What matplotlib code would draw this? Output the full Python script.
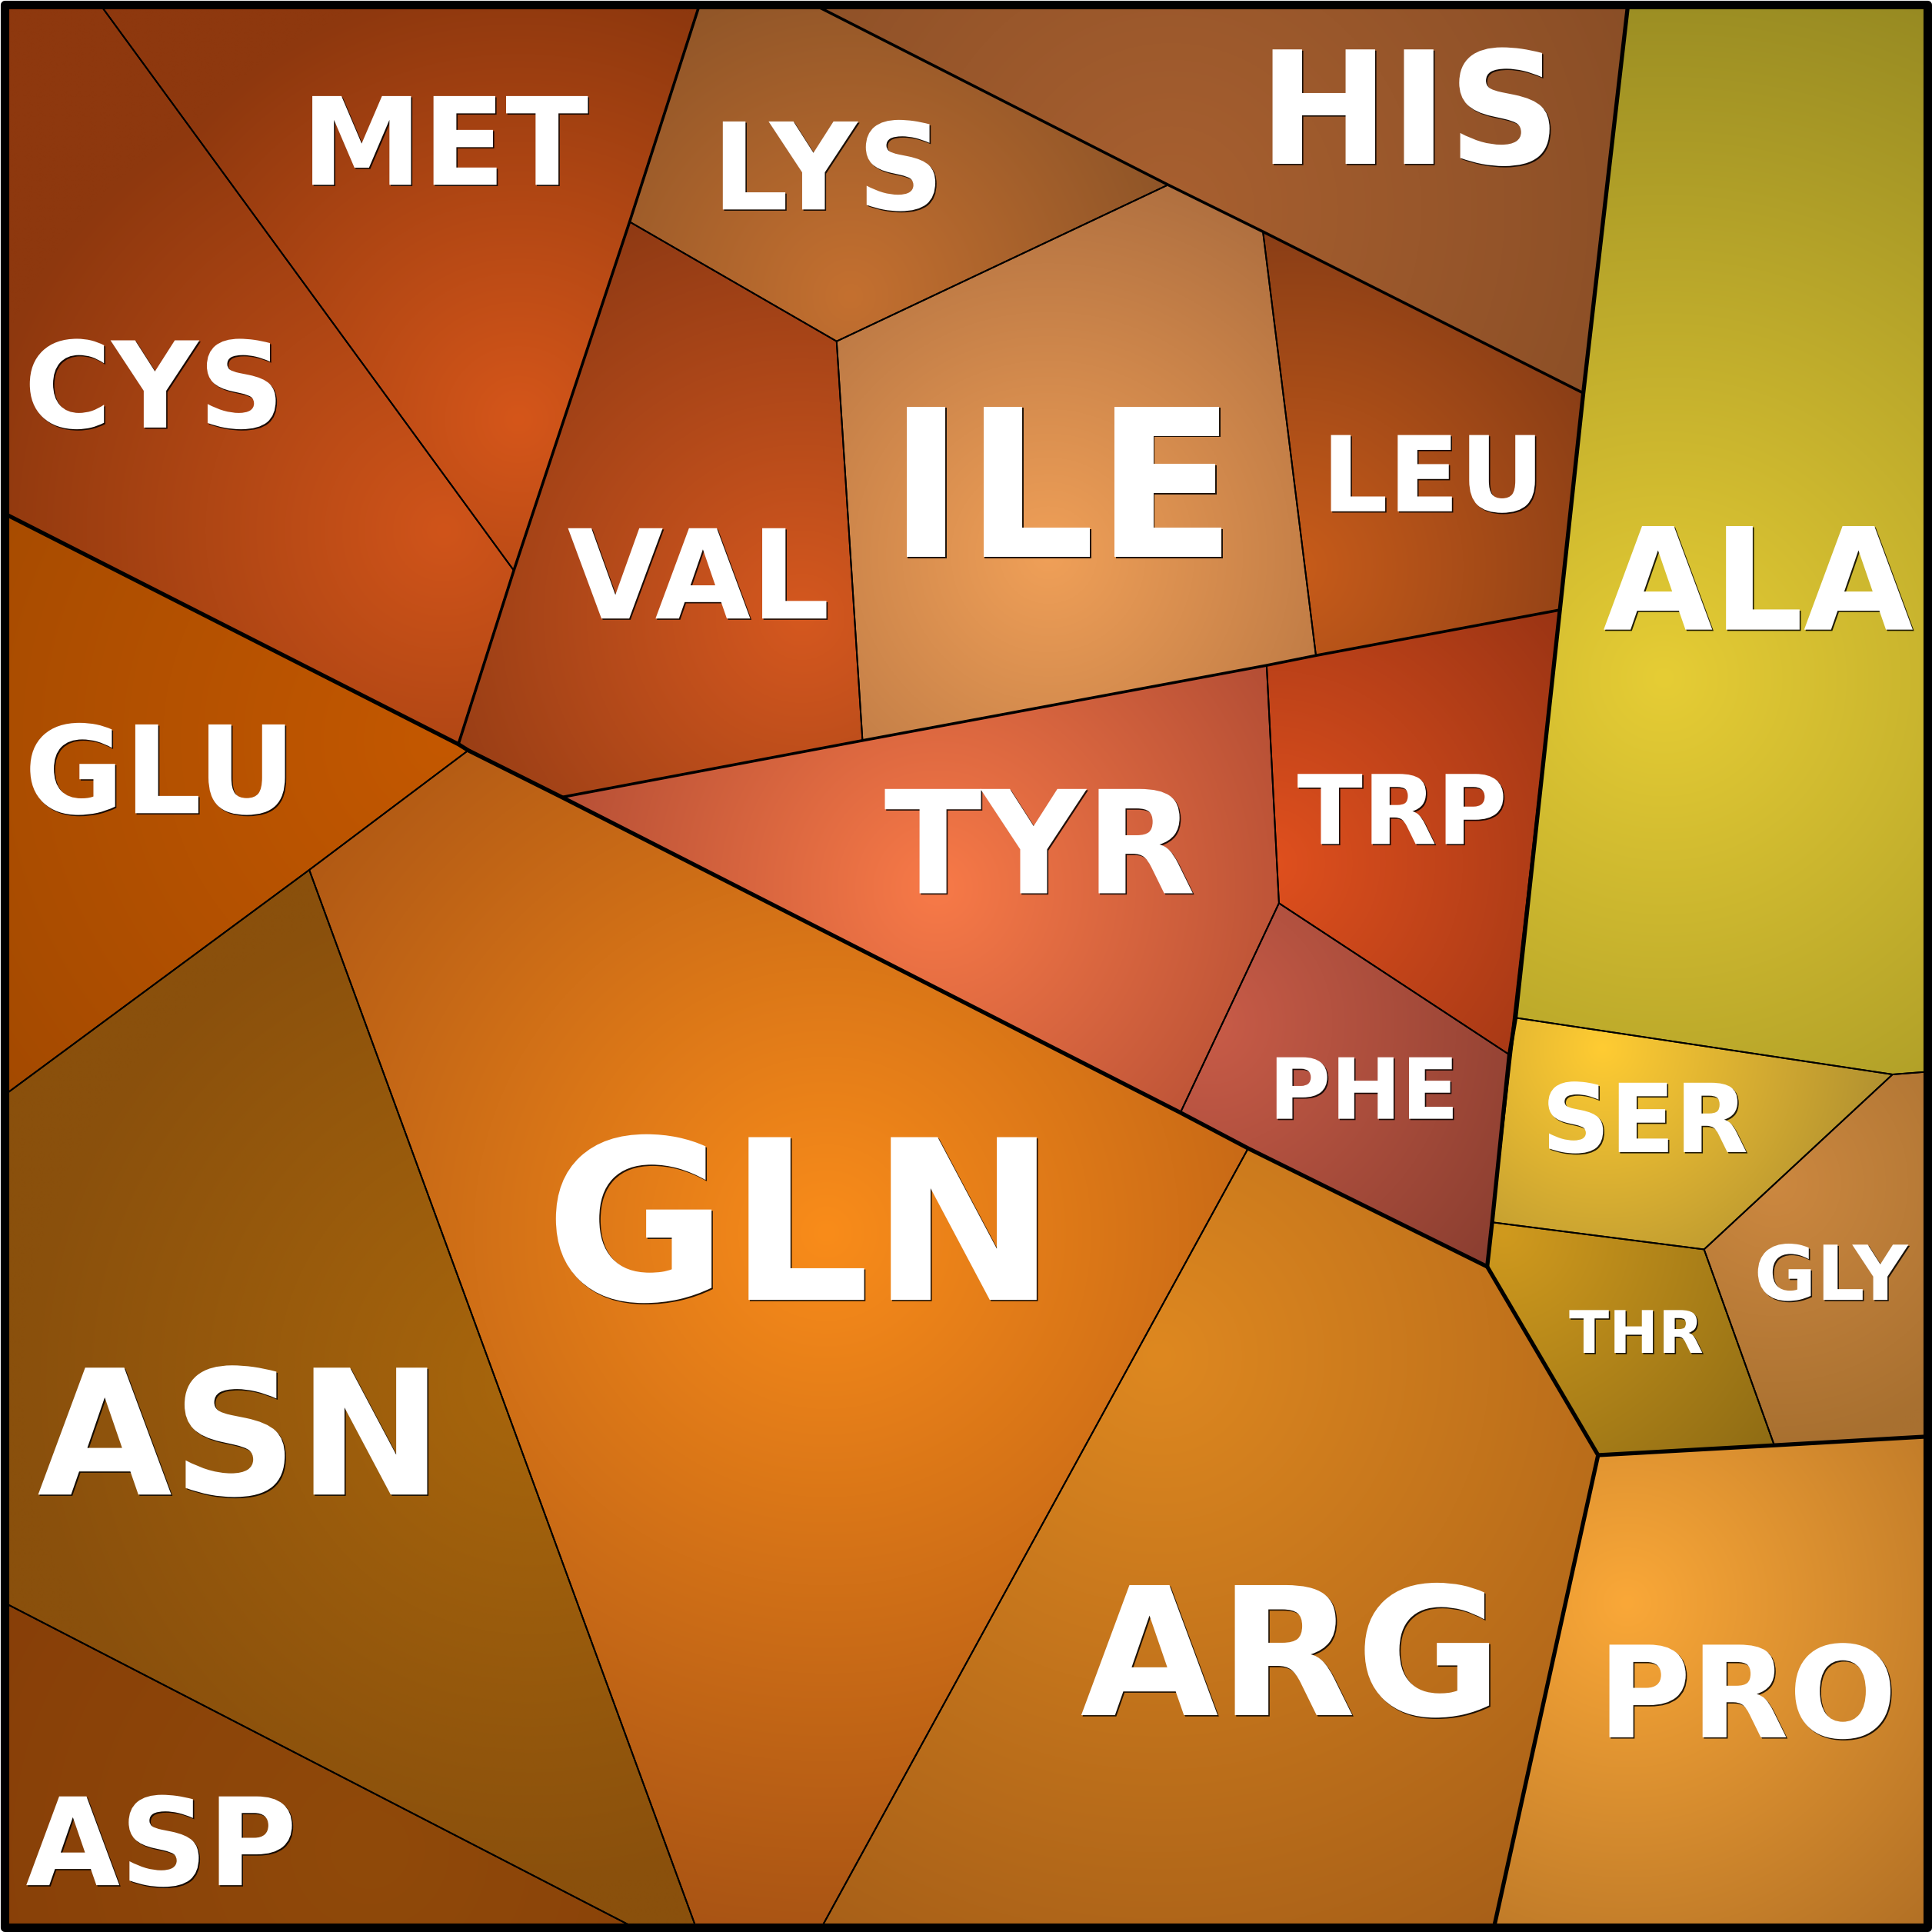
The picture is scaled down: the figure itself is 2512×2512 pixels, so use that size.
import numpy as np
import matplotlib
matplotlib.use("Agg")
import matplotlib.pyplot as plt
from matplotlib.patches import Polygon, Rectangle
import matplotlib.patheffects as pe
import matplotlib.colors as mcolors

# amino acid cells of the voronoi treemap
names = ["CYS", "MET", "LYS", "HIS", "VAL", "ILE", "LEU", "ALA", "TYR", "TRP",
         "PHE", "GLU", "GLN", "ASN", "ASP", "ARG", "PRO", "THR", "SER", "GLY"]

# cell junctions (picture units, 0..1568, y down)
pts = {
    "a": (6, 6), "b": (83, 6), "c": (567, 6), "d": (665, 6), "e": (1321, 6), "f": (1562, 6),
    "g": (417, 463), "h": (372, 604), "i": (6, 418),
    "j": (511, 180), "k": (679, 277), "l": (948, 150), "m": (1025, 188), "n": (1285, 319),
    "o": (700, 601), "p": (456, 647), "q": (1068, 532), "r": (1028, 540), "s": (1266, 495),
    "t": (1038, 733), "u": (1225, 856), "v": (958, 903), "w": (1013, 932), "x": (1207, 1028),
    "y": (380, 609), "z": (251, 706), "aa": (6, 887),
    "ab": (564, 1562), "ac": (668, 1562), "ad": (510, 1562), "ae": (6, 1302), "af": (6, 1562),
    "ag": (1297, 1181), "ah": (1213, 1562), "ai": (1440, 1173), "aj": (1562, 1166), "ak": (1562, 1562),
    "al": (1230, 826), "am": (1536, 872), "an": (1562, 870), "ao": (1383, 1014), "ap": (1211, 992),
}

cells = [
    ["a", "b", "g", "h", "i"],
    ["b", "c", "j", "g"],
    ["c", "d", "l", "k", "j"],
    ["d", "e", "n", "m", "l"],
    ["j", "k", "o", "p", "h", "g"],
    ["k", "l", "m", "q", "r", "o"],
    ["m", "n", "s", "q"],
    ["e", "f", "an", "am", "al", "s", "n"],
    ["p", "o", "r", "t", "v"],
    ["r", "q", "s", "u", "t"],
    ["t", "u", "x", "w", "v"],
    ["i", "h", "y", "z", "aa"],
    ["y", "p", "v", "w", "ac", "ab", "z"],
    ["aa", "z", "ab", "ad", "ae"],
    ["ae", "ad", "af"],
    ["w", "x", "ag", "ah", "ac"],
    ["ag", "ai", "aj", "ak", "ah"],
    ["ap", "ao", "ai", "ag", "x"],
    ["al", "am", "ao", "ap"],
    ["am", "an", "aj", "ai", "ao"],
]

# group boundaries (thicker lines)
level1 = [["i", "h", "y", "p", "v", "w", "x"],
          ["e", "n", "s", "al", "u", "ap", "x"],
          ["x", "ag", "ah"],
          ["ag", "ai", "aj"]]
level2 = [["c", "j", "g", "h"],
          ["d", "l", "m", "n"],
          ["p", "o", "r", "q", "s"]]

inner_col = ["#D0541A", "#D5561A", "#C47030", "#A86030", "#D5581F", "#F0A058",
             "#C85C1A", "#E6CD35", "#F87A48", "#E0501E", "#C95C48", "#C45800",
             "#F98C1A", "#A8660C", "#904A0A", "#DE8820", "#FAA838", "#D09A1E",
             "#FFCC33", "#CC8840"]
outer_col = ["#8E380E", "#8E380E", "#8F5528", "#8A4E26", "#8F3A14", "#B07040",
             "#8A3E16", "#978A22", "#B44E35", "#9A3414", "#8A3E30", "#A44A00",
             "#A95414", "#8A500C", "#883F08", "#A86018", "#B27025", "#8F6C14",
             "#B09030", "#A87030"]
glow = [(360, 430), (420, 340), (690, 240), (950, 170), (650, 500), (850, 450),
        (1050, 460), (1350, 550), (760, 720), (1030, 700), (980, 830), (360, 600),
        (670, 1000), (430, 1120), (300, 1500), (940, 1100), (1320, 1300), (1220, 1000),
        (1300, 850), (1440, 960)]
spread = [0.7, 0.75, 1.0, 1.0, 1.0, 1.0, 1.0, 1.0, 1.0, 1.0, 1.0, 1.0,
          1.0, 0.85, 1.0, 1.0, 1.0, 1.0, 1.0, 0.9]

label_xy = [(125, 347), (361, 150), (672, 170), (1144, 133), (567, 502), (862, 452),
            (1163, 415), (1427, 511), (844, 725), (1138, 685), (1107, 908), (130, 660),
            (650, 1055), (195, 1213), (131, 1530), (1048, 1392), (1418, 1410), (1328, 1098),
            (1335, 935), (1486, 1055)]
label_size = [112, 114, 113, 147, 116, 193, 98, 133, 134, 90, 79, 114,
              209, 163, 114, 167, 119, 55, 89, 71]

W = 1568
fig = plt.figure(figsize=(25.12, 25.12), dpi=100)
ax = fig.add_axes([0, 0, 1, 1])
ax.set_xlim(0, W)
ax.set_ylim(W, 0)
ax.axis("off")

for ci, cell in enumerate(cells):
    verts = np.array([pts[k] for k in cell], dtype=float)
    x0, y0 = verts.min(axis=0) - 2
    x1, y1 = verts.max(axis=0) + 2
    X, Y = np.meshgrid(np.arange(x0, x1, 1.0), np.arange(y0, y1, 1.0))
    cx, cy = glow[ci]
    rad = np.sqrt(((verts - [cx, cy]) ** 2).sum(axis=1)).max() * spread[ci]
    t = np.clip(np.hypot(X - cx, Y - cy) / rad, 0, 1)[..., None]
    c_in = np.array(mcolors.to_rgb(inner_col[ci]))
    c_out = np.array(mcolors.to_rgb(outer_col[ci]))
    img = c_in * (1 - t) + c_out * t
    poly = Polygon(verts, closed=True, facecolor=outer_col[ci], edgecolor="none",
                   transform=ax.transData)
    ax.add_patch(poly)
    im = ax.imshow(img, extent=(x0, x1, y1, y0), origin="upper",
                   interpolation="bilinear", zorder=1)
    im.set_clip_path(poly)
    ax.add_patch(Polygon(verts, closed=True, facecolor="none", edgecolor="black",
                         lw=1.4, zorder=2))

for line in level2:
    arr = np.array([pts[k] for k in line])
    ax.plot(arr[:, 0], arr[:, 1], color="black", lw=2.6, zorder=3,
            solid_joinstyle="miter", solid_capstyle="butt")
for line in level1:
    arr = np.array([pts[k] for k in line])
    ax.plot(arr[:, 0], arr[:, 1], color="black", lw=3.8, zorder=4,
            solid_joinstyle="miter", solid_capstyle="butt")

ax.add_patch(Rectangle((3.5, 3.5), W - 7, W - 7, facecolor="none", edgecolor="black",
                       lw=8, zorder=5, joinstyle="round"))

shadow = [pe.SimplePatchShadow(offset=(1.2, -1.2), shadow_rgbFace="black", alpha=0.85),
          pe.Normal()]
for name, (lx, ly), fs in zip(names, label_xy, label_size):
    ax.text(lx, ly, name, color="white", fontsize=fs, fontweight="bold",
            family="DejaVu Sans", ha="center", va="baseline", zorder=6,
            path_effects=shadow)

fig.savefig("out.png", dpi=100)
